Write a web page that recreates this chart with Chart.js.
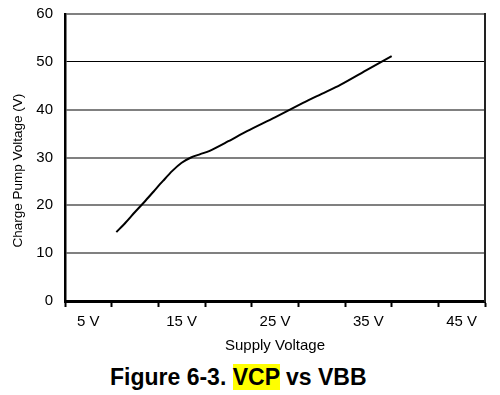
<!DOCTYPE html>
<html>
<head>
<meta charset="utf-8">
<script src="https://cdn.jsdelivr.net/npm/chart.js@4/dist/chart.umd.min.js"></script>
<style>
  html, body { margin: 0; padding: 0; background: #fff; }
  #wrap { position: relative; width: 500px; height: 395px; }
  #chart { position: absolute; left: 0; top: 0; }
  #caption {
    position: absolute; left: 110px; top: 364px;
    font: bold 23px "Liberation Sans", Arial, sans-serif;
    line-height: 26px; color: #000; white-space: nowrap;
  }
  #caption .hl { background: #ffff00; }
</style>
</head>
<body>
<div id="wrap">
  <canvas id="chart" width="500" height="355"></canvas>
  <div id="caption">Figure 6-3. <span class="hl">VCP</span> vs VBB</div>
</div>
<script>
// Data
const supplyVoltage = [8, 9, 10, 11, 12, 13, 14, 15, 16, 17, 18, 20, 22, 25, 28, 30, 32, 35, 37.5];
const pumpVoltage = [14.4, 16.4, 18.6, 20.7, 22.9, 25.1, 27.2, 28.9, 30.0, 30.7, 31.4, 33.4, 35.5, 38.4, 41.4, 43.3, 45.2, 48.5, 51.2];

// x axis: tick marks between labels, labels every 10 V
const xTickMarks = [2.5, 7.5, 12.5, 17.5, 22.5, 27.5, 32.5, 37.5, 42.5, 47.5];
const xLabelValues = [5, 15, 25, 35, 45];
const xTickLabels = ["5 V", "15 V", "25 V", "35 V", "45 V"];

const FONT = "'Liberation Sans', Arial, sans-serif";

const allXTicks = xTickMarks.concat(xLabelValues).sort((a, b) => a - b);

new Chart(document.getElementById("chart"), {
  type: "line",
  data: {
    datasets: [{
      data: supplyVoltage.map((v, i) => ({ x: v, y: pumpVoltage[i] })),
      borderColor: "#000",
      borderWidth: 2,
      pointRadius: 0,
      tension: 0.3,
      fill: false
    }]
  },
  options: {
    responsive: false,
    animation: false,
    layout: { padding: { top: 14, right: 15, left: 0, bottom: 0 } },
    plugins: { legend: { display: false }, tooltip: { enabled: false } },
    scales: {
      x: {
        type: "linear",
        min: 2.5,
        max: 47.5,
        afterBuildTicks: axis => { axis.ticks = allXTicks.map(v => ({ value: v })); },
        afterFit: axis => { axis.height = 54; },
        ticks: {
          autoSkip: false,
          maxRotation: 0,
          color: "#000",
          padding: 6,
          font: { family: FONT, size: 15 },
          callback: v => {
            const i = xLabelValues.indexOf(v);
            return i >= 0 ? xTickLabels[i] : "";
          }
        },
        grid: {
          drawOnChartArea: false,
          drawTicks: true,
          tickLength: 6,
          tickWidth: 2,
          tickColor: ctx => (ctx.tick && xTickMarks.includes(ctx.tick.value)) ? "#000" : "rgba(0,0,0,0)"
        },
        border: { color: "#000", width: 3 },
        title: {
          display: true,
          text: "Supply Voltage",
          color: "#000",
          font: { family: FONT, size: 15 },
          padding: { top: 1, bottom: 0 }
        }
      },
      y: {
        min: 0,
        max: 60,
        afterFit: axis => { axis.width = 65; axis.paddingTop = 0; axis.paddingBottom = 0; },
        ticks: {
          stepSize: 10,
          padding: 12,
          color: "#000",
          font: { family: FONT, size: 15 }
        },
        grid: {
          drawTicks: false,
          color: ctx => (ctx.tick && ctx.tick.value === 50) ? "#000" : "#808080",
          lineWidth: ctx => (ctx.tick && ctx.tick.value === 50) ? 1 : 2
        },
        border: { color: "#000", width: 2.5 },
        title: {
          display: true,
          text: "Charge Pump Voltage (V)       ",
          color: "#000",
          font: { family: FONT, size: 13.5 },
          padding: { top: 10, bottom: 0 }
        }
      },
      y2: {
        position: "right",
        min: 0,
        max: 60,
        afterFit: axis => { axis.width = 0; axis.paddingTop = 0; axis.paddingBottom = 0; },
        ticks: { display: false },
        grid: { display: false, drawTicks: false },
        border: { color: "#222", width: 2 }
      }
    }
  }
});
</script>
</body>
</html>
